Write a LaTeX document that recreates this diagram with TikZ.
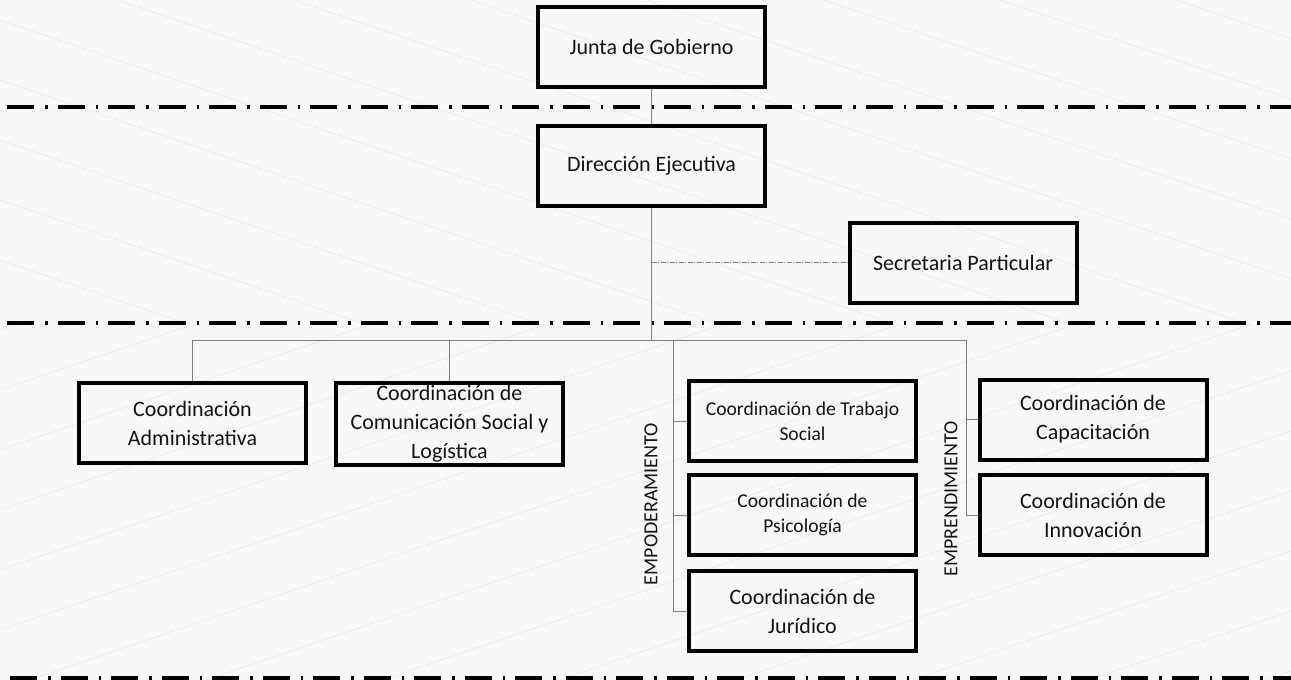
\documentclass[tikz,border=0pt]{standalone}
\usepackage{fontspec}
\setmainfont{Carlito}
\definecolor{bgc}{HTML}{F8F8F9}
\definecolor{bgl}{HTML}{EFEFF1}
\definecolor{conn}{HTML}{808080}
\definecolor{txt}{HTML}{141414}
\tikzset{
  orgbox/.style={draw=black, line width=4pt, minimum width=227pt, minimum height=80pt,
    inner sep=2pt, align=center, text=txt, font=\fontsize{22}{29}\selectfont},
  orgsmall/.style={orgbox, font=\fontsize{19.6}{25}\selectfont},
  link/.style={draw=conn, line width=1pt},
  sublink/.style={draw=conn, line width=0.9pt, dash pattern=on 5pt off 1.5pt on 1pt off 1.5pt},
  sepline/.style={draw=black, line width=4pt, dash pattern=on 27pt off 11pt on 2.5pt off 10pt},
  vlabel/.style={rotate=90, text=txt, font=\fontsize{20}{24}\selectfont, inner sep=0pt},
  bgline/.style={draw=bgl, line width=1.2pt},
}
\begin{document}
\begin{tikzpicture}[x=1pt,y=-1pt]
  % background
  \fill[bgc] (0,0) rectangle (1291,680);
  \useasboundingbox (0,0) rectangle (1291,680);
  \begin{scope}
    \clip (0,0) rectangle (1291,325);
    \foreach \c in {-460,-400,...,340} {
      \draw[bgline] (0,\c) -- (1291,\c+439);
    }
  \end{scope}
  \begin{scope}
    \clip (0,325) rectangle (1291,680);
    \foreach \c in {330,390,...,1150} {
      \draw[bgline] (0,\c) -- (1291,\c-439);
    }
  \end{scope}

  % separators
  \coordinate (s1l) at (7,106.5);  \coordinate (s1r) at (1291,106.5);
  \coordinate (s2l) at (7,323);    \coordinate (s2r) at (1291,323);
  \coordinate (s3l) at (10,678);   \coordinate (s3r) at (1291,678);
  \draw[sepline] (s1l) -- (s1r);
  \draw[sepline] (s2l) -- (s2r);
  \draw[sepline] (s3l) -- (s3r);

  % nodes
  \node[orgbox] (junta) at (651.5,47) {Junta de Gobierno};
  \node[orgbox] (dir) at (651.5,166) {Dirección Ejecutiva};
  \node[orgbox] (sec) at (963,262.5) {Secretaria Particular};
  \node[orgbox] (adm) at (192.5,423) {Coordinación\\Administrativa};
  \node[orgbox] (com) at (449.5,424) {Coordinación de\\Comunicación Social y\\Logística};
  \node[orgsmall] (ts) at (802.5,421) {Coordinación de Trabajo\\Social};
  \node[orgsmall] (psi) at (802.5,515) {Coordinación de\\Psicología};
  \node[orgbox] (jur) at (802.5,611) {Coordinación de\\Jurídico};
  \node[orgbox] (cap) at (1093,419.5) {Coordinación de\\Capacitación};
  \node[orgbox] (inn) at (1093,515) {Coordinación de\\Innovación};

  \node[vlabel] (emp) at (651,504) {EMPODERAMIENTO};
  \node[vlabel] (emr) at (951,499) {EMPRENDIMIENTO};

  % connectors
  \coordinate (hub) at (651.5,340);
  \coordinate (secj) at (651.5,262.5);
  \coordinate (empTop) at (673,340);
  \coordinate (emrTop) at (966,340);

  \draw[link] (junta.south) -- (dir.north);
  \draw[link] (dir.south) -- (hub);
  \draw[sublink] (secj) -- (sec.west);
  \draw[link] (adm.north) |- (emrTop);
  \draw[link] (com.north) -- (com.north |- hub);
  \draw[link] (empTop) |- (jur.west);
  \draw[link] (empTop) |- (ts.west);
  \draw[link] (empTop) |- (psi.west);
  \draw[link] (emrTop) |- (inn.west);
  \draw[link] (emrTop) |- (cap.west);
\end{tikzpicture}
\end{document}
